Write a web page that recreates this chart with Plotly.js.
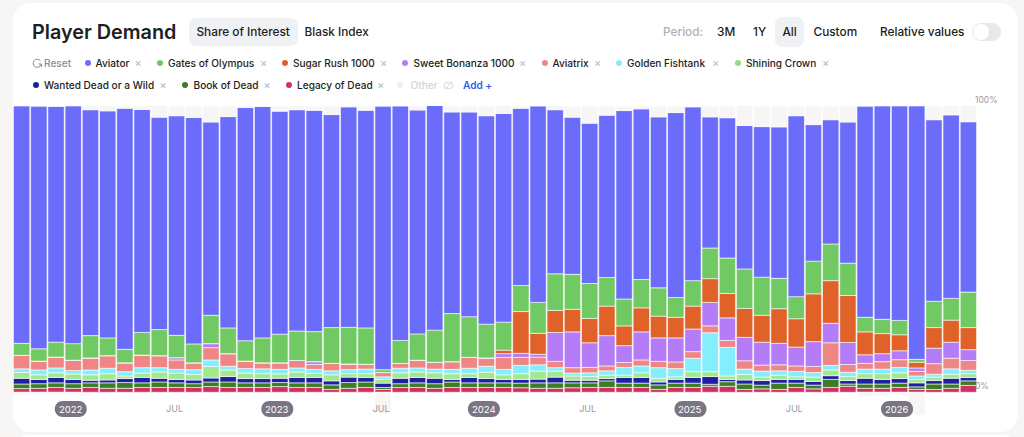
<!DOCTYPE html>
<html>
<head>
<meta charset="utf-8">
<script src="https://cdn.plot.ly/plotly-3.0.1.min.js"></script>
<style>
    html, body { margin: 0; padding: 0; width: 1024px; height: 437px; overflow: hidden; background: #f7f6f4; }
    body { font-family: Inter, sans-serif; color: #1d1d22; position: relative; }
    .card { position: absolute; left: 13px; top: 3px; width: 1005px; height: 429px; background: #fff; border-radius: 18px; }
    .card2 { position: absolute; left: 13px; top: 435px; width: 1005px; height: 30px; background: #fff; border-radius: 18px; }
    #chart { position: absolute; left: 0; top: 0; width: 1024px; height: 437px; }
    .t { position: absolute; white-space: nowrap; line-height: 16px; }
    .btn { position: absolute; background: #f0f1f5; border-radius: 7px; }
    .head { font-size: 11.8px; font-weight: 500; }
    .leg { font-size: 10.1px; font-weight: 500; }
    .x { color: #b4b4bd; font-size: 11px; font-weight: 400; }
    .dot { position: absolute; width: 6px; height: 6px; border-radius: 50%; }
    svg.icon { position: absolute; }
</style>
</head>
<body>
<div class="card"></div>
<div class="card2"></div>
<div id="chart"></div>
<div id="chrome"></div>
<script>
// Monthly share of interest, Oct 2021 - May 2026, percent
var months = [
    'Oct 2021', 'Nov 2021', 'Dec 2021', 'Jan 2022', 'Feb 2022', 'Mar 2022', 'Apr 2022', 'May 2022',
    'Jun 2022', 'Jul 2022', 'Aug 2022', 'Sep 2022', 'Oct 2022', 'Nov 2022', 'Dec 2022', 'Jan 2023',
    'Feb 2023', 'Mar 2023', 'Apr 2023', 'May 2023', 'Jun 2023', 'Jul 2023', 'Aug 2023', 'Sep 2023',
    'Oct 2023', 'Nov 2023', 'Dec 2023', 'Jan 2024', 'Feb 2024', 'Mar 2024', 'Apr 2024', 'May 2024',
    'Jun 2024', 'Jul 2024', 'Aug 2024', 'Sep 2024', 'Oct 2024', 'Nov 2024', 'Dec 2024', 'Jan 2025',
    'Feb 2025', 'Mar 2025', 'Apr 2025', 'May 2025', 'Jun 2025', 'Jul 2025', 'Aug 2025', 'Sep 2025',
    'Oct 2025', 'Nov 2025', 'Dec 2025', 'Jan 2026', 'Feb 2026', 'Mar 2026', 'Apr 2026', 'May 2026'
];

var legacy = [
    1.3, 1.4, 1.7, 1.4, 1.7, 1.4, 1.4, 1.7, 1.7, 1.7,
    1.7, 2.0, 1.7, 1.7, 1.7, 2.0, 1.7, 1.7, 1.0, 1.4,
    1.7, 1.0, 1.7, 1.7, 1.4, 1.7, 1.7, 1.7, 1.7, 1.6,
    1.4, 1.4, 1.6, 1.7, 1.7, 1.7, 1.7, 1.0, 1.7, 1.7,
    2.1, 2.1, 1.0, 1.2, 1.0, 1.7, 1.2, 1.7, 2.1, 1.4,
    1.4, 1.7, 1.0, 1.0, 1.4, 2.4
];
var bookOfDead = [
    1.6, 1.6, 1.6, 1.6, 1.6, 1.9, 2.0, 1.6, 1.9, 1.6,
    1.3, 1.6, 1.9, 1.6, 1.6, 1.4, 1.6, 1.6, 1.6, 2.0,
    1.9, 0.7, 1.3, 1.6, 1.6, 1.9, 1.6, 1.6, 1.6, 1.6,
    1.9, 1.9, 1.7, 1.6, 2.3, 1.5, 1.5, 1.6, 1.5, 1.5,
    0.7, 1.6, 1.9, 1.3, 2.2, 1.5, 1.3, 2.8, 0.8, 1.5,
    1.5, 1.5, 0.9, 1.9, 1.5, 1.6
];
var wanted = [
    2.0, 1.5, 1.9, 1.5, 0.9, 1.0, 1.4, 1.9, 1.3, 1.2,
    1.3, 1.4, 1.9, 1.5, 1.5, 1.5, 1.9, 1.9, 1.4, 1.9,
    1.6, 1.5, 1.9, 1.9, 1.9, 0.9, 1.9, 1.5, 1.2, 1.3,
    1.3, 2.0, 0.9, 0.9, 0.8, 2.0, 2.0, 1.0, 1.3, 2.0,
    2.7, 0.8, 1.4, 1.6, 1.3, 1.3, 1.3, 1.3, 1.2, 2.0,
    1.6, 1.6, 1.4, 1.2, 2.0, 1.2
];
var shining = [
    2.0, 1.6, 1.6, 1.9, 1.9, 2.2, 0.9, 1.5, 2.2, 2.2,
    1.9, 4.0, 2.3, 1.9, 1.7, 1.5, 1.9, 1.4, 2.1, 1.2,
    1.3, 1.3, 1.9, 1.9, 1.9, 2.0, 1.3, 2.2, 1.6, 2.0,
    2.8, 2.1, 1.5, 1.3, 1.2, 0.8, 1.6, 1.2, 0.9, 2.0,
    1.7, 1.2, 1.9, 1.2, 1.5, 0.9, 1.5, 2.0, 1.4, 1.6,
    2.0, 2.0, 1.2, 1.2, 1.4, 1.3
];
var fishtank = [
    1.3, 1.7, 1.7, 1.2, 1.7, 1.9, 1.5, 1.9, 1.5, 1.3,
    1.7, 2.3, 1.3, 1.6, 1.7, 1.6, 1.4, 1.4, 1.4, 1.4,
    1.6, 0.9, 1.6, 1.4, 1.3, 1.5, 1.9, 2.1, 1.9, 2.9,
    2.2, 1.2, 1.0, 1.3, 1.5, 2.7, 2.4, 3.8, 2.9, 4.7,
    13.6, 10.0, 1.9, 2.1, 1.5, 1.9, 1.6, 1.6, 1.5, 1.6,
    1.6, 1.9, 1.2, 1.0, 1.9, 1.2
];
var aviatrix = [
    4.7, 3.1, 3.8, 3.6, 4.2, 4.4, 3.1, 4.4, 4.2, 3.3,
    2.4, 4.3, 4.4, 2.6, 2.1, 2.3, 2.6, 1.7, 2.6, 2.0,
    1.7, 1.5, 1.7, 2.7, 2.4, 2.7, 3.8, 2.9, 4.2, 2.8,
    2.7, 2.2, 1.9, 1.9, 1.7, 1.7, 2.1, 2.2, 2.3, 2.3,
    2.4, 2.4, 2.9, 2.1, 2.1, 1.9, 2.1, 7.9, 2.7, 2.0,
    2.6, 2.7, 1.6, 3.7, 3.7, 3.4
];
var bonanza = [
    0, 0, 0, 0, 0, 0, 0, 0, 0, 0.8,
    0, 1.4, 0, 0, 0, 0, 0, 1.0, 0, 0,
    0, 0, 0, 0, 0, 0, 0, 0, 1.3, 1.4,
    1.0, 10.1, 12.5, 8.6, 10.6, 5.9, 9.8, 8.2, 8.4, 7.9,
    8.2, 7.9, 8.2, 8.0, 7.5, 6.6, 8.7, 6.8, 7.7, 3.0,
    2.8, 3.1, 1.2, 5.4, 5.6, 3.8
];
var sugarRush = [
    0, 0, 0, 0, 0, 0, 0, 0, 0, 0,
    0, 0, 0, 0, 0, 0, 0, 0, 0, 0,
    0, 0, 0, 0, 0, 0, 0, 0, 1.2, 14.6,
    7.3, 7.7, 7.9, 8.5, 10.3, 6.9, 8.4, 7.6, 7.2, 8.0,
    8.3, 8.5, 10.1, 9.4, 12.1, 9.9, 16.7, 14.9, 16.4, 8.0,
    7.0, 5.6, 2.0, 7.2, 7.7, 7.7
];
var gates = [
    4.2, 4.3, 5.2, 5.8, 7.8, 6.2, 4.7, 7.9, 9.1, 7.8,
    6.6, 9.9, 9.0, 7.1, 8.7, 10.0, 10.3, 10.5, 12.5, 12.8,
    12.7, 1.0, 8.0, 9.2, 11.2, 16.8, 14.2, 11.8, 9.8, 9.1,
    10.8, 12.8, 12.2, 12.2, 10.0, 9.4, 9.9, 9.9, 6.9, 8.9,
    10.7, 12.4, 13.8, 13.3, 10.6, 7.7, 11.4, 12.8, 11.3, 5.1,
    5.0, 5.0, 1.0, 9.2, 7.6, 12.4
];
var aviator = [
    83.0, 84.8, 82.4, 83.1, 78.9, 79.3, 84.2, 77.9, 74.2, 76.7,
    79.1, 67.5, 73.8, 81.5, 80.9, 77.9, 77.3, 77.3, 74.4, 77.0,
    76.0, 92.1, 82.0, 78.2, 78.5, 70.4, 71.5, 72.8, 72.9, 61.9,
    68.7, 57.3, 54.9, 56.0, 56.7, 65.8, 59.6, 59.7, 64.6, 60.7,
    45.8, 49.0, 50.1, 52.6, 52.9, 63.2, 47.7, 43.4, 49.3, 73.8,
    74.6, 75.0, 88.6, 63.4, 64.1, 59.5
];
var other = [
    0, 0, 0, 0, 1.3, 1.9, 0.9, 1.3, 4.1, 3.5,
    4.1, 5.7, 3.8, 0.6, 0, 1.9, 1.5, 1.5, 3.1, 0.6,
    1.5, 0, 0, 1.5, 0, 2.2, 2.2, 3.5, 2.8, 0.9,
    0, 1.5, 3.8, 6.1, 3.3, 1.6, 1.0, 3.8, 2.3, 0.3,
    3.8, 4.2, 7.0, 7.3, 7.3, 3.5, 6.6, 4.9, 5.7, 0,
    0, 0, 0, 4.9, 3.3, 5.7
];
// the pale "Other" columns that hang under the 0% line in a few months
var otherBelow = [
    -0.9, -0.9, -0.9, -0.9, 0, 0, 0, 0, 0, 0,
    0, 0, 0, 0, 0, 0, 0, 0, 0, 0,
    0, -7.3, 0, 0, 0, 0, 0, 0, 0, 0,
    0, 0, 0, 0, 0, 0, 0, 0, 0, 0,
    0, 0, 0, 0, 0, 0, 0, 0, 0, -1.5,
    -1.2, -1.0, -7.9, 0, 0, 0
];

var julyTicks = ['Jul 2022', 'Jul 2023', 'Jul 2024', 'Jul 2025'];
var yearTicks = ['Jan 2022', 'Jan 2023', 'Jan 2024', 'Jan 2025', 'Jan 2026'];
var yearLabels = ['2022', '2023', '2024', '2025', '2026'];

var colors = {
    aviator: '#6c6cfa',
    gates: '#70c962',
    sugarRush: '#e06229',
    bonanza: '#b57cf7',
    aviatrix: '#f08585',
    fishtank: '#84eefc',
    shining: '#a2e88f',
    wanted: '#1f1fa3',
    book: '#3a7d22',
    legacy: '#cf3262',
    other: '#f7f6f4'
};

// Stacked from the bottom up
function bar(name, values, color) {
    return {
        type: 'bar',
        name: name,
        x: months,
        y: values,
        marker: { color: color, line: { color: 'rgba(255,255,255,0.85)', width: 0.7 } }
    };
}

var data = [
    bar('Legacy of Dead', legacy, colors.legacy),
    bar('Book of Dead', bookOfDead, colors.book),
    bar('Wanted Dead or a Wild', wanted, colors.wanted),
    bar('Shining Crown', shining, colors.shining),
    bar('Golden Fishtank', fishtank, colors.fishtank),
    bar('Aviatrix', aviatrix, colors.aviatrix),
    bar('Sweet Bonanza 1000', bonanza, colors.bonanza),
    bar('Sugar Rush 1000', sugarRush, colors.sugarRush),
    bar('Gates of Olympus', gates, colors.gates),
    bar('Aviator', aviator, colors.aviator),
    bar('Other', other, colors.other),
    bar('Other', otherBelow, colors.other)
];

// Rounded pill behind the year labels, sized in pixels
function pill(month) {
    return {
        type: 'path',
        layer: 'above',
        xref: 'x',
        yref: 'paper',
        xsizemode: 'pixel',
        ysizemode: 'pixel',
        xanchor: month,
        yanchor: 0.0194,
        path: 'M -10.5 -8 L 5.5 -8 C 10 -8 13.5 -4.5 13.5 0 C 13.5 4.5 10 8 5.5 8 L -10.5 8 C -15 8 -18.5 4.5 -18.5 0 C -18.5 -4.5 -15 -8 -10.5 -8 Z',
        fillcolor: '#7a7585',
        line: { width: 0 }
    };
}

function yearNote(month, i) {
    return {
        xref: 'x',
        yref: 'paper',
        x: month,
        y: 0.0194,
        xanchor: 'center',
        yanchor: 'middle',
        xshift: -2.5,
        text: yearLabels[i],
        showarrow: false,
        font: { color: '#fff', size: 9.5 }
    };
}

var layout = {
    width: 1024,
    height: 437,
    showlegend: false,
    barmode: 'relative',
    bargap: 0.05,
    paper_bgcolor: 'rgba(0,0,0,0)',
    plot_bgcolor: 'rgba(0,0,0,0)',
    font: { family: 'Inter, sans-serif', color: '#9a9aa3', size: 9 },
    margin: { l: 13, r: 47, t: 106, b: 22 },
    xaxis: {
        type: 'category',
        categoryorder: 'array',
        categoryarray: months,
        range: [-0.5, 55.5],
        anchor: 'free',
        position: 0.042,
        tickmode: 'array',
        tickvals: julyTicks,
        ticktext: ['JUL', 'JUL', 'JUL', 'JUL'],
        ticks: '',
        tickangle: 0,
        ticklabelshift: -2,
        showgrid: false,
        zeroline: false,
        showline: false
    },
    yaxis: {
        range: [-7.93, 100],
        side: 'right',
        tickmode: 'array',
        tickvals: [0, 100],
        ticktext: ['0%', '100%'],
        ticks: '',
        tickfont: { size: 8.5 },
        ticklabelshift: -6,
        ticklabelstandoff: -3,
        showgrid: false,
        zeroline: false,
        showline: false
    },
    shapes: yearTicks.map(pill),
    annotations: yearTicks.map(yearNote)
};

Plotly.newPlot('chart', data, layout, { staticPlot: true });

// Header and legend chips above the plot
var chrome = document.getElementById('chrome');

function addText(text, left, top, cls, extra) {
    var el = document.createElement('div');
    el.className = 't ' + cls;
    el.textContent = text;
    el.style.left = left + 'px';
    el.style.top = top + 'px';
    if (extra) el.style.cssText += extra;
    chrome.appendChild(el);
}

function addBox(left, top, w, h) {
    var el = document.createElement('div');
    el.className = 'btn';
    el.style.cssText = 'left:' + left + 'px;top:' + top + 'px;width:' + w + 'px;height:' + h + 'px';
    chrome.appendChild(el);
}

function addIcon(left, top, inner) {
    chrome.insertAdjacentHTML('beforeend',
        '<svg class="icon" width="11" height="11" viewBox="0 0 11 11" fill="none" style="left:' + left + 'px;top:' + top + 'px">' + inner + '</svg>');
}

addText('Player Demand', 32, 22, '', 'font-size:19.8px;font-weight:600;line-height:20px;');
addBox(189, 18, 109, 28);
addText('Share of Interest', 196.5, 24, 'head');
addText('Blask Index', 304.5, 24, 'head');
addText('Period:', 663, 24, 'head', 'color:#b0b0b8;');
addText('3M', 717, 24, 'head');
addText('1Y', 753, 24, 'head');
addBox(775, 17, 29, 30);
addText('All', 782.5, 24, 'head');
addText('Custom', 813.5, 24, 'head');
addText('Relative values', 880, 24, 'head');

// toggle switch
addBox(972, 23, 29, 18);
chrome.lastChild.style.borderRadius = '9px';
chrome.lastChild.style.background = '#e8e8ec';
var knob = document.createElement('div');
knob.className = 'dot';
knob.style.cssText = 'left:973px;top:24px;width:16px;height:16px;background:#fff;';
chrome.appendChild(knob);

function addChip(name, color, dotX, textX, crossX, rowY) {
    var dot = document.createElement('div');
    dot.className = 'dot';
    dot.style.cssText = 'left:' + (dotX - 3) + 'px;top:' + (rowY - 3) + 'px;background:' + color;
    chrome.appendChild(dot);
    addText(name, textX, rowY - 8, 'leg');
    if (crossX) addText('\u00d7', crossX - 3, rowY - 8, 'x');
}

// reset arrow
addIcon(32, 58, '<path d="M8.5 3 A4 4 0 1 0 9 6.5 M6.5 6 H9.5 V9" stroke="#8b8b96" stroke-width="1"/>');
addText('Reset', 44, 55, 'leg', 'color:#8b8b96;');
addChip('Aviator', colors.aviator, 87.5, 95.5, 137.5, 63);
addChip('Gates of Olympus', colors.gates, 159.5, 168, 263, 63);
addChip('Sugar Rush 1000', colors.sugarRush, 285, 293, 383, 63);
addChip('Sweet Bonanza 1000', colors.bonanza, 405, 413.5, 522, 63);
addChip('Aviatrix', colors.aviatrix, 544.5, 552.5, 597, 63);
addChip('Golden Fishtank', colors.fishtank, 619, 627, 715, 63);
addChip('Shining Crown', '#8fdf80', 737.5, 746, 825, 63);
addChip('Wanted Dead or a Wild', colors.wanted, 36, 44, 162.5, 85);
addChip('Book of Dead', colors.book, 185, 193.5, 266.5, 85);
addChip('Legacy of Dead', colors.legacy, 288.5, 297, 380, 85);
addChip('Other', '#eeeef0', 400, 410.5, 0, 85);
chrome.lastChild.style.color = '#d3d3da';
// hidden-series eye
addIcon(443, 80, '<ellipse cx="5.5" cy="5.5" rx="4.5" ry="3" stroke="#d3d3da"/><path d="M2 9.5 L9 1.5" stroke="#d3d3da"/>');
addText('Add +', 463, 77, 'leg', 'color:#2d62e8;font-weight:600;');
</script>
</body>
</html>
